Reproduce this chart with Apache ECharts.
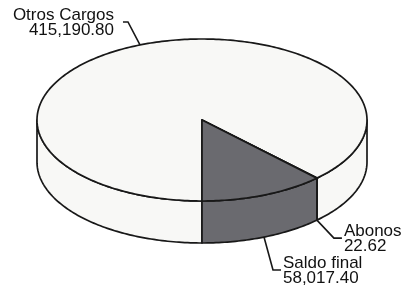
<!DOCTYPE html>
<html>
<head>
<meta charset="utf-8">
<script src="https://cdn.jsdelivr.net/npm/echarts@6/dist/echarts.min.js"></script>
<style>
html, body { margin: 0; padding: 0; background: #fff; }
#main { width: 410px; height: 289px; }
</style>
</head>
<body>
<div id="main"></div>
<script>
// datos del gráfico
const categories = ['Otros Cargos', 'Abonos', 'Saldo final'];
const values = [415190.80, 22.62, 58017.40];
const valueLabels = ['415,190.80', '22.62', '58,017.40'];

// colores de cada porción
const colors = ['#f8f8f6', '#6a6a6f', '#6a6a6f'];

// geometría del "pastel 3D"
const cx = 202, cy = 120, rx = 165, ry = 81, depth = 42;
const startAngle = 90; // empieza abajo y gira en sentido horario
const lineColor = '#181818';
const font = '17px "Liberation Sans", Arial, sans-serif';

// posición de las etiquetas (codo de la línea guía y lado del texto)
const labelLayout = [
    { dx: -12, dy: -23, hx: -5, align: 'right' },
    { dx: 17, dy: 18, hx: 8, align: 'left' },
    { dx: 9, dy: 33, hx: 8, align: 'left' }
];

const total = values.reduce((a, b) => a + b, 0);

function pt(deg, dz) {
    const r = deg * Math.PI / 180;
    return [cx + rx * Math.cos(r), cy + ry * Math.sin(r) + (dz || 0)];
}

function arc(a0, a1, dz) {
    const pts = [];
    const n = Math.max(2, Math.ceil(Math.abs(a1 - a0)));
    for (let i = 0; i <= n; i++) {
        pts.push(pt(a0 + (a1 - a0) * i / n, dz));
    }
    return pts;
}

function renderItem(params, api) {
    const idx = params.dataIndex;
    let before = 0;
    for (let i = 0; i < idx; i++) before += values[i];
    const a0 = startAngle + before / total * 360;
    const a1 = a0 + api.value(0) / total * 360;
    const children = [];
    const style = { fill: colors[idx], stroke: lineColor, lineWidth: 1.7, lineJoin: 'round' };

    // pared lateral (solo la parte frontal, 0..180 grados)
    for (let k = 0; k < 2; k++) {
        const s = Math.max(a0, k * 360);
        const e = Math.min(a1, k * 360 + 180);
        if (e - s > 0.001) {
            const top = arc(s, e, 0);
            const bottom = arc(e, s, depth);
            children.push({
                type: 'polygon',
                shape: { points: top.concat(bottom) },
                style: style
            });
        }
    }

    // cara superior
    children.push({
        type: 'polygon',
        shape: { points: [[cx, cy]].concat(arc(a0, a1, 0)) },
        style: style
    });

    // etiqueta con línea guía
    const mid = (a0 + a1) / 2;
    const front = Math.sin(mid * Math.PI / 180) > 0;
    const p0 = pt(mid, front ? depth : 0);
    const lay = labelLayout[idx];
    const p1 = [p0[0] + lay.dx, p0[1] + lay.dy];
    const p2 = [p1[0] + lay.hx, p1[1]];
    children.push({
        type: 'polyline',
        shape: { points: [p0, p1, p2] },
        style: { stroke: lineColor, lineWidth: 1.6, fill: null }
    });
    children.push({
        type: 'text',
        style: {
            text: categories[idx] + '\n' + valueLabels[idx],
            x: p2[0] + (lay.align === 'right' ? -9 : 2),
            y: p2[1] + 1,
            font: font,
            lineHeight: 15,
            fill: '#111',
            align: lay.align,
            verticalAlign: 'middle'
        }
    });

    return { type: 'group', children: children };
}

let myChart = echarts.init(document.getElementById('main'));

option = {
    backgroundColor: '#ffffff',
    animation: false,
    series: [
        {
            type: 'custom',
            coordinateSystem: 'none',
            renderItem: renderItem,
            data: values.map((v, i) => ({ name: categories[i], value: [v] }))
        }
    ]
};

myChart.setOption(option);
</script>
</body>
</html>
